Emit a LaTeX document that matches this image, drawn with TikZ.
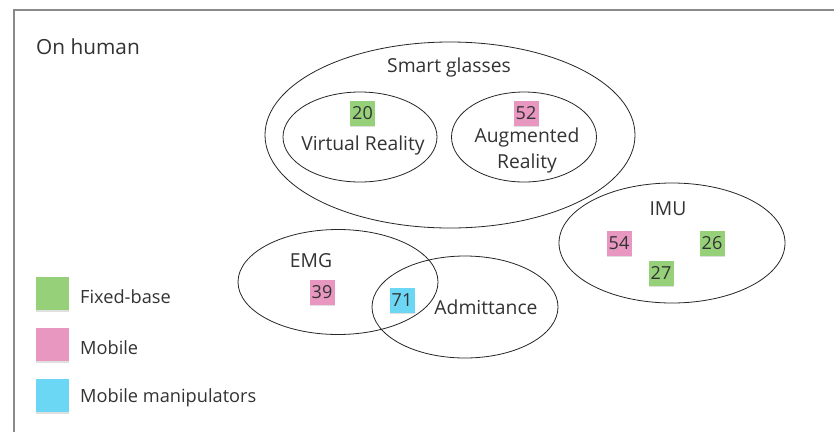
\documentclass[tikz,border=0pt]{standalone}
\usepackage{fontspec}
\setmainfont{Open Sans}
\usetikzlibrary{shapes.geometric,shadows}
\definecolor{txt}{HTML}{333333}
\definecolor{sgreen}{HTML}{96D17A}
\definecolor{spink}{HTML}{E897C1}
\definecolor{sblue}{HTML}{6CD6F5}
\definecolor{frame}{HTML}{8A8A8A}
\tikzset{
  set/.style={draw=black!85, line width=0.8pt, ellipse, inner sep=0pt},
  lbl/.style={text=txt, font=\fontsize{19.3}{22}\selectfont, inner sep=0pt},
  sticky/.style={fill=#1, minimum size=25pt, inner sep=0pt, text=txt,
     font=\fontsize{18}{20}\selectfont, drop shadow={shadow xshift=0pt, shadow yshift=-1.5pt, opacity=0.25}},
  legsq/.style={fill=#1, minimum size=33pt, inner sep=0pt, drop shadow={shadow xshift=0pt, shadow yshift=-2pt, opacity=0.25}},
  legtxt/.style={text=txt, anchor=west, inner sep=0pt, font=\fontsize{18.2}{20}\selectfont},
}
\begin{document}
\begin{tikzpicture}[x=1pt,y=-1pt]
\useasboundingbox (0,0) rectangle (834,432);
\fill[white] (0,0) rectangle (834,432);
\draw[frame, line width=1.6pt] (14,432) -- (14,10) -- (834,10);
\node[lbl, anchor=west, font=\fontsize{20.8}{22}\selectfont] (title) at (36,47) {On human};
% Smart glasses
\node[set, minimum width=370pt, minimum height=186pt] (sg) at (450,135) {};
\node[lbl] (sgl) at (449,67) {Smart glasses};
\node[set, minimum width=154pt, minimum height=90pt] (vr) at (360,137) {};
\node[sticky=sgreen] (n20) at (362.5,113) {20};
\node[lbl] (vrl) at (363,145) {Virtual Reality};
\node[set, minimum width=145pt, minimum height=90pt] (ar) at (524,137) {};
\node[sticky=spink] (n52) at (526,113) {52};
\node[lbl, align=center, font=\fontsize{19.3}{26}\selectfont] (arl) at (527,150) {Augmented\\Reality};
% IMU
\node[set, minimum width=226pt, minimum height=120pt] (imu) at (672,243) {};
\node[lbl] (imul) at (668,209) {IMU};
\node[sticky=spink] (n54) at (619,243) {54};
\node[sticky=sgreen] (n26) at (712,243) {26};
\node[sticky=sgreen] (n27) at (661,273) {27};
% EMG and Admittance
\node[set, minimum width=200pt, minimum height=105pt] (emg) at (338,282) {};
\node[set, minimum width=186pt, minimum height=102pt] (adm) at (465,307) {};
\node[lbl] (emgl) at (311,261) {EMG};
\node[sticky=spink] (n39) at (322,292) {39};
\node[sticky=sblue] (n71) at (402,300) {71};
\node[lbl] (adml) at (486,307) {Admittance};
% Legend
\node[legsq=sgreen] (lg) at (52,293) {};
\node[legsq=spink] (lp) at (52,344) {};
\node[legsq=sblue] (lb) at (52,395) {};
\node[legtxt] (lgt) at (80,297) {Fixed-base};
\node[legtxt] (lpt) at (80,348) {Mobile};
\node[legtxt] (lbt) at (80,398) {Mobile manipulators};
\end{tikzpicture}
\end{document}
